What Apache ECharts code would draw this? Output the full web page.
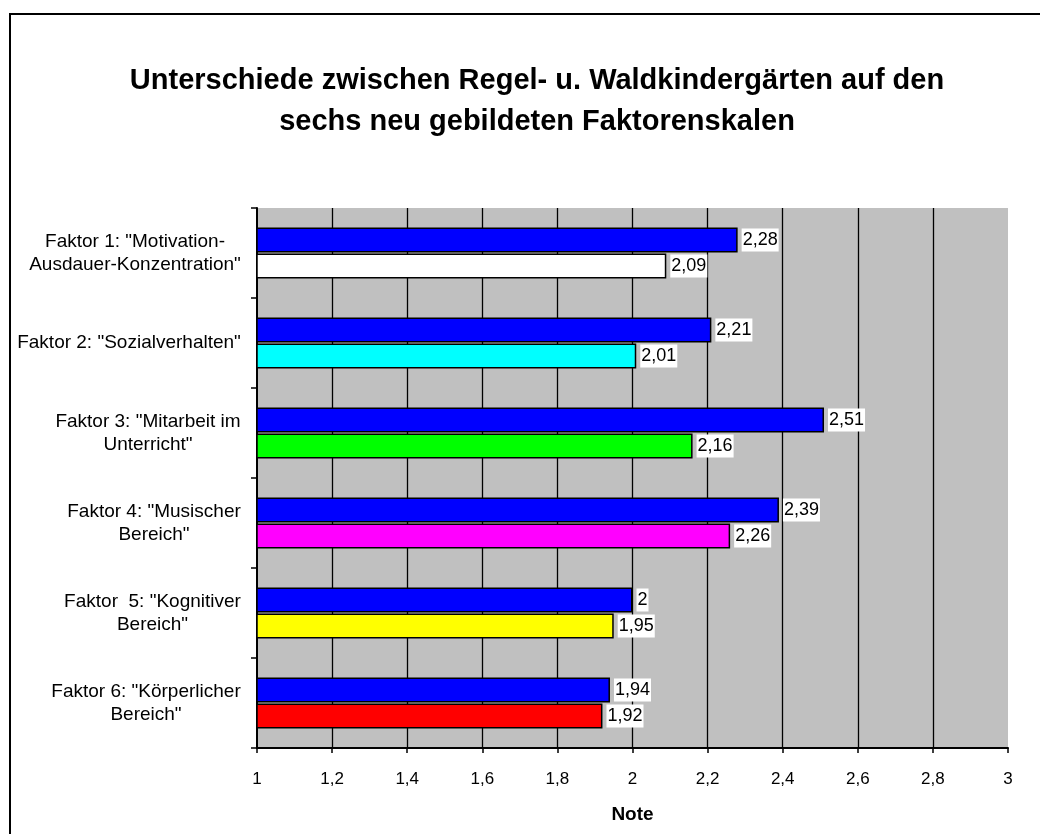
<!DOCTYPE html>
<html>
<head>
    <meta charset="utf-8">
    <title>Faktorenskalen</title>
    <script src="https://cdn.jsdelivr.net/npm/echarts@6/dist/echarts.min.js"></script>
    <style>
        body { margin: 0; background: #fff; }
    </style>
</head>
<body>
<div id="main" style="width: 1040px;height:834px;"></div>

<script type="text/javascript">
    // Kategorien von oben nach unten
    var kategorien = [
        'Faktor 1: "Motivation-\nAusdauer-Konzentration"',
        'Faktor 2: "Sozialverhalten"',
        'Faktor 3: "Mitarbeit im\nUnterricht"',
        'Faktor 4: "Musischer\nBereich"',
        'Faktor  5: "Kognitiver\nBereich"',
        'Faktor 6: "Körperlicher\nBereich"'
    ];
    var regelWerte = [2.28, 2.21, 2.51, 2.39, 2, 1.94];
    var waldWerte = [2.09, 2.01, 2.16, 2.26, 1.95, 1.92];
    var waldFarben = ['#FFFFFF', '#00FFFF', '#00FF00', '#FF00FF', '#FFFF00', '#FF0000'];

    var schrift = '"Liberation Sans", Arial, sans-serif';
    var katSchrift = 19;

    function komma(v) {
        return String(v).replace('.', ',');
    }

    // Zeilen zentriert, Block rechtsbuendig an der Achse (wie Excel)
    var messCtx = document.createElement('canvas').getContext('2d');
    messCtx.font = katSchrift + 'px ' + schrift;
    var katRich = {};
    kategorien.forEach(function (k, i) {
        var w = 0;
        k.split('\n').forEach(function (z) {
            w = Math.max(w, messCtx.measureText(z).width);
        });
        katRich['k' + i] = {
            width: Math.ceil(w),
            align: 'center',
            fontFamily: schrift,
            fontSize: katSchrift,
            lineHeight: 23,
            color: '#000'
        };
    });

    var wertLabel = {
        show: true,
        position: 'right',
        distance: 4,
        color: '#000',
        fontFamily: schrift,
        fontSize: 18,
        lineHeight: 22,
        backgroundColor: '#fff',
        padding: [1, 1, 0, 1],
        formatter: function (p) { return komma(p.value); }
    };

    var myChart = echarts.init(document.getElementById('main'));

    myChart.setOption({
        animation: false,
        backgroundColor: '#fff',
        title: {
            text: 'Unterschiede zwischen Regel- u. Waldkindergärten auf den\nsechs neu gebildeten Faktorenskalen',
            left: 532,
            textAlign: 'center',
            top: 55,
            textStyle: {
                fontFamily: schrift,
                fontSize: 29,
                fontWeight: 'bold',
                color: '#000',
                lineHeight: 41
            }
        },
        graphic: [{
            type: 'rect',
            shape: { x: 10, y: 14, width: 1100, height: 900 },
            style: { fill: 'none', stroke: '#000', lineWidth: 2 },
            silent: true
        }],
        grid: {
            left: 257,
            right: 32,
            top: 208,
            bottom: 86,
            containLabel: false,
            outerBoundsMode: 'none',
            show: true,
            backgroundColor: '#C0C0C0',
            borderWidth: 0
        },
        xAxis: {
            type: 'value',
            min: 1,
            max: 3,
            interval: 0.2,
            name: 'Note',
            nameLocation: 'middle',
            nameGap: 57,
            nameTextStyle: {
                fontFamily: schrift,
                fontSize: 19,
                fontWeight: 'bold',
                color: '#000'
            },
            axisLine: { show: true, lineStyle: { color: '#000', width: 2 } },
            axisTick: { show: true, length: 5, lineStyle: { color: '#000', width: 1.5 } },
            axisLabel: {
                margin: 23,
                fontFamily: schrift,
                fontSize: 17,
                color: '#000',
                formatter: function (v) { return komma(Math.round(v * 10) / 10); }
            },
            splitLine: {
                show: true,
                showMinLine: false,
                showMaxLine: false,
                lineStyle: { color: '#000', width: 1.3 }
            }
        },
        yAxis: {
            type: 'category',
            inverse: true,
            data: kategorien,
            axisLine: { show: true, lineStyle: { color: '#000', width: 2 } },
            axisTick: { show: true, length: 6, lineStyle: { color: '#000', width: 1.5 } },
            axisLabel: {
                margin: 16,
                fontFamily: schrift,
                fontSize: katSchrift,
                lineHeight: 23,
                color: '#000',
                align: 'right',
                formatter: function (v, i) {
                    return v.split('\n').map(function (z) {
                        return '{k' + i + '|' + z + '}';
                    }).join('\n');
                },
                rich: katRich
            },
            splitLine: { show: false }
        },
        series: [
            {
                name: 'Regelkindergarten',
                type: 'bar',
                data: regelWerte,
                barWidth: 25,
                barGap: '4%',
                itemStyle: { color: '#0000FF', borderColor: '#000', borderWidth: 1.5 },
                label: wertLabel
            },
            {
                name: 'Waldkindergarten',
                type: 'bar',
                data: waldWerte.map(function (v, i) {
                    return { value: v, itemStyle: { color: waldFarben[i] } };
                }),
                barWidth: 25,
                itemStyle: { borderColor: '#000', borderWidth: 1.5 },
                label: wertLabel
            }
        ]
    });
</script>
</body>
</html>
